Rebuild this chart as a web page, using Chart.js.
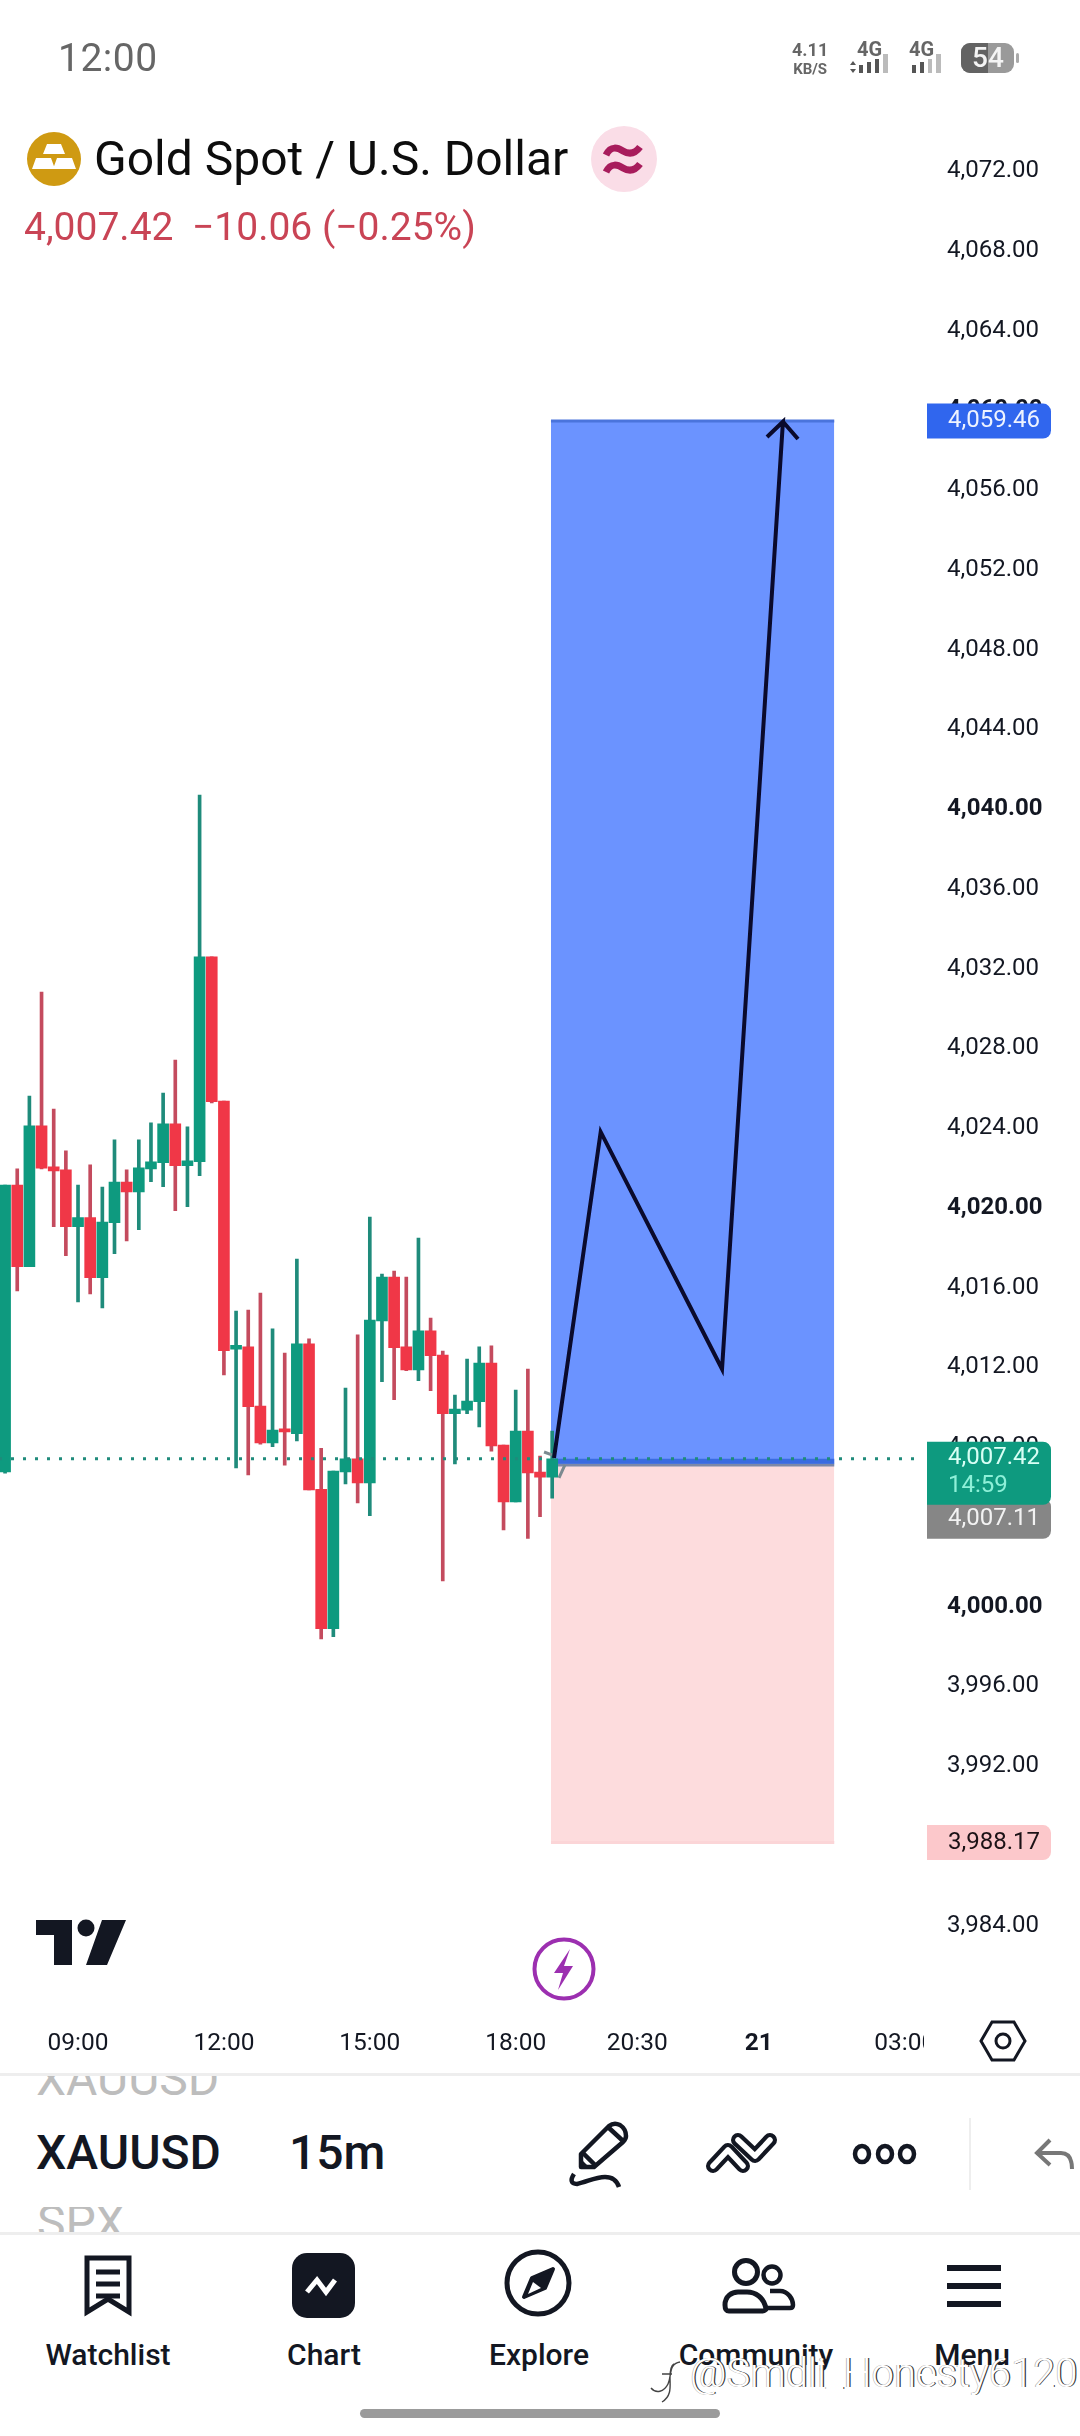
<!DOCTYPE html>
<html>
<head>
<meta charset="utf-8">
<title>XAUUSD 15m</title>
<script src="https://cdn.jsdelivr.net/npm/chart.js@4/dist/chart.umd.min.js"></script>
<style>
  html, body { margin: 0; padding: 0; background: #fff; }
  body { position: relative; width: 1080px; height: 2436px; overflow: hidden; font-family: Roboto, sans-serif; color: #131722; }
  #chart { position: absolute; left: -1px; top: 0; }
  .abs { position: absolute; white-space: nowrap; }
  .nav { position: absolute; top: 2337px; font-size: 30px; line-height: 36px; font-weight: 500; transform: translateX(-50%); white-space: nowrap; }
  svg { position: absolute; overflow: visible; }
</style>
</head>
<body>
<canvas id="chart" width="1081" height="2072"></canvas>

<!-- barra de estado -->
<div class="abs" style="left:58px;top:36px;font-size:39px;line-height:44px;color:#666;letter-spacing:.5px">12:00</div>
<div class="abs" style="left:792px;top:41px;font-size:18px;line-height:18px;font-weight:700;color:#666;text-align:center">4.11<br><span style="font-size:15px">KB/S</span></div>
<div class="abs" style="left:857px;top:39px;font-size:20px;line-height:20px;font-weight:700;color:#666">4G</div>
<div class="abs" style="left:909px;top:39px;font-size:20px;line-height:20px;font-weight:700;color:#666">4G</div>
<svg style="left:0;top:0" width="1080" height="90">
  <g fill="#555"><rect x="859" y="65" width="4" height="8"/><rect x="867" y="62" width="4" height="11"/><rect x="875" y="59" width="4" height="14"/></g>
  <rect x="883" y="54" width="5" height="19" fill="#bbb"/>
  <path d="M850 65l3-4 3 4zM850 69l3 4 3-4z" fill="#555"/>
  <g fill="#555"><rect x="912" y="65" width="4" height="8"/><rect x="920" y="62" width="4" height="11"/></g>
  <g fill="#bbb"><rect x="928" y="59" width="4" height="14"/><rect x="936" y="54" width="5" height="19"/></g>
  <rect x="961" y="43" width="53" height="30" rx="9" fill="#9a9a9a"/>
  <path d="M970 43h18v30h-18a9 9 0 0 1-9-9v-12a9 9 0 0 1 9-9z" fill="#636363"/>
  <rect x="1016" y="53" width="3" height="10" rx="1.5" fill="#aaa"/>
</svg>
<div class="abs" style="left:972px;top:42px;font-size:28px;line-height:32px;font-weight:500;color:#f4f4f4">54</div>

<!-- cabecera -->
<svg style="left:27px;top:132px" width="54" height="54" viewBox="0 0 54 54">
  <circle cx="27" cy="27" r="27" fill="#cf9a12"/>
  <path d="M20 12h14l4 10h-22zM9 26h15l4 11h-23zM30 26h15l4 11h-23z" fill="#fff"/>
</svg>
<div class="abs" style="left:94px;top:131px;font-size:48px;line-height:56px;color:#0d0d0d">Gold Spot / U.S. Dollar</div>
<svg style="left:591px;top:126px" width="66" height="66" viewBox="0 0 66 66">
  <circle cx="33" cy="33" r="33" fill="#fadde7"/>
  <path d="M15 29c5-10 12-7 17-4s11 4 17-4M15 46c5-10 12-7 17-4s11 4 17-4" fill="none" stroke="#a81c5c" stroke-width="7"/>
</svg>
<div class="abs" style="left:24px;top:204px;font-size:39px;line-height:46px;color:#c94455">4,007.42</div>
<div class="abs" style="left:192px;top:204px;font-size:39px;line-height:46px;color:#c94455">−10.06 (−0.25%)</div>

<!-- logo y rayo -->
<svg style="left:0;top:0" width="1080" height="2075">
  <path d="M36 1920h36v45h-18v-30h-18zM102 1920h24l-19 45h-21z" fill="#131722"/>
  <circle cx="86" cy="1928" r="8.5" fill="#131722"/>
  <circle cx="564" cy="1969" r="29.5" fill="#fff" stroke="#9c2fb0" stroke-width="4"/>
  <path d="M570 1949l-16 24h9l-5 17 15-24h-9z" fill="#9c2fb0"/>
  <rect x="924" y="2020" width="60" height="46" fill="#fff"/>
  <path d="M992 2022h22l11 19-11 19h-22l-11-19z" fill="none" stroke="#131722" stroke-width="3"/>
  <circle cx="1003" cy="2041" r="7" fill="none" stroke="#131722" stroke-width="3"/>
</svg>

<!-- barra de herramientas -->
<div class="abs" style="left:0;top:2073px;width:1080px;height:3px;background:#eee"></div>
<div class="abs" style="left:0;top:2232px;width:1080px;height:3px;background:#eee"></div>
<div class="abs" style="left:36px;top:2076px;height:24px;overflow:hidden;font-size:48px;line-height:46px;color:#bdbdbd"><div style="margin-top:-20px">XAUUSD</div></div>
<div class="abs" style="left:37px;top:2207px;height:25px;overflow:hidden;font-size:48px;line-height:46px;color:#bdbdbd"><div style="margin-top:-7px">SPX</div></div>
<div class="abs" style="left:36px;top:2126px;font-size:48px;line-height:54px;font-weight:500">XAUUSD</div>
<div class="abs" style="left:289px;top:2126px;font-size:48px;line-height:54px;font-weight:500">15m</div>
<svg style="left:0;top:0" width="1080" height="2240">
  <g fill="none" stroke="#131722" stroke-width="4.5" stroke-linejoin="round" stroke-linecap="round">
    <path d="M581 2167V2154L609 2126q5-4 11-1q6 4 6 11q0 3-3 6L594 2167Z"/>
    <path d="M609 2128l13 12M583 2153l12 12"/>
    <path d="M574 2174c-4 6-3 10 3 10c10-2 18-7 28-7c8 0 12 4 14 10" stroke-linecap="butt"/>
    <ellipse cx="862" cy="2154" rx="7" ry="8"/><ellipse cx="885" cy="2154" rx="7" ry="8"/><ellipse cx="907" cy="2154" rx="7" ry="8"/>
  </g>
  <path d="M582 2160l6 6h-6z" fill="#131722"/>
  <g fill="none" stroke-linecap="round" stroke-linejoin="round">
    <path d="M713 2166l15-16 15 16M738 2140l17 16 15-16" stroke="#131722" stroke-width="14"/>
    <path d="M713 2166l15-16 15 16M738 2140l17 16 15-16" stroke="#fff" stroke-width="5.5"/>
  </g>
  <rect x="969" y="2118" width="2" height="72" fill="#eee"/>
  <path d="M1050 2140l-13 13 13 12M1037 2153h24c7 0 11 5 11 16" fill="none" stroke="#777" stroke-width="4"/>
</svg>

<!-- navegacion inferior -->
<svg style="left:0;top:0" width="1080" height="2330">
  <g fill="none" stroke="#131722" stroke-width="5" stroke-linejoin="round">
    <path d="M87 2258h42v54l-21-13-21 13z" stroke-linejoin="miter"/>
    <path d="M96 2272h24M96 2284h24M96 2296h24"/>
    <circle cx="538" cy="2283" r="31"/>
    <circle cx="746" cy="2272" r="11.5"/>
    <circle cx="772" cy="2275" r="8.5" stroke-width="4.5"/>
    <path d="M725 2305c0-9 7-13 13-13h9c8 0 17 5 19 17c0 1-2 2-4 2h-33c-3 0-4-2-4-6z"/>
    <path d="M770 2291h10c8 0 13 8 13 14c0 2-1 3-3 3h-23" stroke-width="4.5"/>
  </g>
  <rect x="292" y="2253" width="63" height="65" rx="15" fill="#131722"/>
  <path d="M307 2292l10-12 9 12 9-12" fill="none" stroke="#fff" stroke-width="5"/>
  <path d="M553 2269L532 2278L524 2297L545 2288Z" fill="#131722" stroke="#131722" stroke-width="4" stroke-linejoin="round"/>
  <path d="M528 2294L533 2282L541 2288Z" fill="#fff"/>
  <rect x="947" y="2265" width="54" height="6" fill="#131722"/>
  <rect x="947" y="2283" width="54" height="6" fill="#131722"/>
  <rect x="947" y="2301" width="54" height="6" fill="#131722"/>
</svg>
<div class="nav" style="left:108px">Watchlist</div>
<div class="nav" style="left:324px">Chart</div>
<div class="nav" style="left:539px">Explore</div>
<div class="nav" style="left:756px">Community</div>
<div class="nav" style="left:972px">Menu</div>

<!-- marca de agua -->
<svg style="left:650px;top:2360px" width="42" height="44" viewBox="0 0 42 44">
  <path d="M30 2C18 4 22 16 18 24S6 34 1 28M24 4c-4 2-4 10-4 14c0 8 2 18-8 24M12 14h10" fill="none" stroke="#fff" stroke-width="5"/>
  <path d="M30 2C18 4 22 16 18 24S6 34 1 28M24 4c-4 2-4 10-4 14c0 8 2 18-8 24M12 14h10" fill="none" stroke="#444" stroke-width="1.4"/>
</svg>
<div class="abs" style="left:690px;top:2351px;font-size:40px;line-height:46px;font-weight:300;color:#fff;text-shadow:1.2px 0 0 #333,-.6px 0 0 #aaa">@Smdli_Honesty6120</div>
<div class="abs" style="left:360px;top:2409px;width:360px;height:9px;border-radius:5px;background:#9b9b9b"></div>

<script>
// etiquetas del eje de tiempo, velas de 15 minutos
const timeLabels = [
    '07:30', '07:45', '08:00', '08:15', '08:30', '08:45', '09:00', '09:15', '09:30', '09:45',
    '10:00', '10:15', '10:30', '10:45', '11:00', '11:15', '11:30', '11:45', '12:00', '12:15',
    '12:30', '12:45', '13:00', '13:15', '13:30', '13:45', '14:00', '14:15', '14:30', '14:45',
    '15:00', '15:15', '15:30', '15:45', '16:00', '16:15', '16:30', '16:45', '17:00', '17:15',
    '17:30', '17:45', '18:00', '18:15', '18:30', '18:45', '19:00', '19:15', '19:30', '19:45',
    '20:00', '20:15', '20:30', '20:45', '21:00', '21:15', '21:30', '21:45', '22:00', '22:15',
    '22:30', '22:45', '21', '00:15', '00:30', '00:45', '01:00', '01:15', '01:30', '01:45',
    '02:00', '02:15', '02:30', '02:45', '03:00', '03:15'
];
const shownTimes = ['09:00', '12:00', '15:00', '18:00', '20:30', '21', '03:00'];

// valores
const opens = [
    4006.76, 4021.15, 4017.05, 4024.12, 4022.06, 4021.91, 4019.06, 4019.51, 4016.50, 4019.26,
    4021.30, 4020.80, 4021.96, 4022.27, 4024.22, 4022.12, 4022.32, 4032.59, 4025.36, 4012.91,
    4013.03, 4010.06, 4008.22, 4008.92, 4008.68, 4013.18, 4005.89, 3998.90, 4006.76, 4007.42,
    4006.21, 4014.33, 4016.53, 4013.03, 4011.87, 4013.83, 4012.62, 4009.68, 4009.86, 4010.28,
    4012.22, 4008.10, 4005.26, 4008.81, 4006.75, 4006.50
];
const highs = [
    4021.15, 4021.96, 4025.61, 4030.82, 4024.96, 4022.86, 4021.15, 4022.16, 4021.05, 4023.41,
    4021.91, 4023.41, 4024.27, 4025.76, 4027.42, 4024.07, 4040.71, 4032.59, 4025.36, 4014.83,
    4014.88, 4015.73, 4013.93, 4012.72, 4017.44, 4013.43, 4007.94, 4006.80, 4010.97, 4013.63,
    4019.54, 4016.68, 4016.83, 4016.53, 4018.49, 4014.48, 4012.82, 4010.61, 4012.42, 4013.03,
    4013.08, 4008.10, 4010.87, 4011.92, 4007.55, 4008.81
];
const lows = [
    4006.70, 4015.84, 4017.05, 4021.96, 4019.06, 4017.60, 4015.29, 4015.69, 4014.99, 4017.70,
    4018.34, 4018.91, 4021.32, 4021.07, 4019.86, 4020.06, 4021.62, 4025.26, 4011.63, 4006.96,
    4006.61, 4008.15, 4008.02, 4007.10, 4008.32, 4005.86, 3998.39, 3998.50, 4006.16, 4005.21,
    4004.57, 4011.28, 4010.38, 4011.84, 4011.33, 4010.83, 4001.29, 4007.16, 4009.68, 4009.02,
    4007.80, 4003.85, 4005.26, 4003.42, 4004.52, 4005.44
];
const closes = [
    4021.15, 4017.05, 4024.12, 4021.99, 4021.86, 4019.06, 4019.51, 4016.50, 4019.29, 4021.30,
    4020.80, 4022.01, 4022.31, 4024.22, 4022.12, 4022.36, 4032.59, 4025.33, 4012.84, 4013.11,
    4010.03, 4008.22, 4008.86, 4008.77, 4013.18, 4005.86, 3998.90, 4006.80, 4007.42, 4006.21,
    4014.38, 4016.53, 4012.99, 4011.87, 4013.83, 4012.59, 4009.68, 4009.91, 4010.31, 4012.22,
    4008.07, 4005.26, 4008.81, 4006.71, 4006.50, 4007.42
];

// posicion larga dibujada: inicio y fin en indice de vela
const positionSpan = [44.9, 68.2];
const targetPrice = 4059.46;
const entryPrice = 4007.11;
const entryBandPrice = 4007.30;
const stopPrice = 3988.17;
const lastPrice = 4007.42;

// trazo a mano: indice de vela y precio
const pathIndex = [45.15, 48.99, 58.97, 63.98, 62.67, 63.98, 65.22];
const pathPrice = [4007.46, 4023.81, 4011.92, 4059.43, 4058.66, 4059.43, 4058.56];

// marcas pequeñas junto a la entrada
const markIndex = [44.33, 44.98, 45.2, 45.56, 46.05];
const markPrice = [4007.76, 4007.61, null, 4006.46, 4007.11];

const GREEN = '#0e9a7f';
const RED = '#f03747';
const GREEN_WICK = '#1f8b7b';
const RED_WICK = '#c44b5e';
const isUp = (i) => closes[i] >= opens[i];

const hLine = (price, extra) => Object.assign({
    type: 'line',
    xAxisID: 'x2',
    data: [{ x: -0.5, y: price }, { x: 75.5, y: price }],
    pointRadius: 0,
    tension: 0
}, extra);

const zone = (edge, base, fillColor, border, order) => ({
    type: 'line',
    xAxisID: 'x2',
    data: positionSpan.map((x) => ({ x, y: edge })),
    pointRadius: 0,
    tension: 0,
    borderColor: border,
    borderWidth: 3,
    backgroundColor: fillColor,
    fill: { value: base },
    order
});

// etiquetas de precio sobre el eje, ancladas a la escala
const roundBox = (ctx, top, bottom, color, radii) => {
    ctx.fillStyle = color;
    ctx.beginPath();
    ctx.roundRect(927, top, 124, bottom - top, radii);
    ctx.fill();
};
const priceBadges = {
    id: 'priceBadges',
    afterDraw(chart) {
        const { ctx, scales: { y } } = chart;
        const label = (text, ty, color) => {
            ctx.fillStyle = color;
            ctx.fillText(text, 948, ty);
        };
        ctx.save();
        ctx.translate(1, 0);
        ctx.font = '24px Roboto';
        ctx.textAlign = 'left';
        ctx.textBaseline = 'middle';

        const blue = y.getPixelForValue(targetPrice);
        roundBox(ctx, blue - 17.5, blue + 17.5, '#3066ee', [0, 8, 8, 0]);
        label('4,059.46', blue, '#eef3ff');

        const pink = y.getPixelForValue(stopPrice);
        roundBox(ctx, pink - 17.5, pink + 17.5, '#fcc8cb', [0, 8, 8, 0]);
        label('3,988.17', pink, '#1c1216');

        const last = y.getPixelForValue(lastPrice);
        roundBox(ctx, last + 40, last + 80, '#868686', [0, 8, 8, 0]);
        label('4,007.11', last + 60, '#f2f2f2');
        roundBox(ctx, last - 17, last + 46, GREEN, [0, 8, 8, 0]);
        label('4,007.42', last - 1, '#d8fff5');
        label('14:59', last + 27, '#8ef0d8');
        ctx.restore();
    }
};

new Chart(document.getElementById('chart'), {
    data: {
        labels: timeLabels,
        datasets: [
            zone(targetPrice, entryPrice, '#6b93ff', '#4a74dc', 6),
            zone(stopPrice, entryPrice, '#fddcdd', '#fbd5d7', 6),
            {
                type: 'bar',
                data: highs.map((h, i) => [lows[i], h]),
                backgroundColor: opens.map((_, i) => (isUp(i) ? GREEN_WICK : RED_WICK)),
                barThickness: 3,
                grouped: false,
                order: 3
            },
            {
                type: 'bar',
                data: opens.map((o, i) => [o, closes[i]]),
                backgroundColor: opens.map((_, i) => (isUp(i) ? GREEN : RED)),
                barThickness: 11,
                grouped: false,
                order: 2
            },
            hLine(entryPrice, {
                data: positionSpan.map((x) => ({ x, y: entryPrice })),
                borderColor: '#7c88a8',
                borderWidth: 3,
                order: 5
            }),
            hLine(entryBandPrice, {
                data: positionSpan.map((x) => ({ x, y: entryBandPrice })),
                borderColor: '#3a6be0',
                borderWidth: 5,
                order: 4
            }),
            hLine(lastPrice, {
                borderColor: '#1f8b7b',
                borderWidth: 3,
                borderDash: [3, 9],
                order: 1
            }),
            {
                type: 'line',
                xAxisID: 'x2',
                data: markIndex.map((x, i) => ({ x, y: markPrice[i] })),
                borderColor: '#7b8a90',
                borderWidth: 3,
                pointRadius: 0,
                tension: 0,
                order: 1
            },
            {
                type: 'line',
                xAxisID: 'x2',
                data: pathIndex.map((x, i) => ({ x, y: pathPrice[i] })),
                borderColor: '#0a0a2c',
                borderWidth: 4,
                pointRadius: 0,
                tension: 0,
                order: 0
            }
        ]
    },
    options: {
        responsive: false,
        animation: false,
        layout: { padding: { top: 91.3, left: 0, right: 0, bottom: 0 } },
        plugins: { legend: { display: false }, tooltip: { enabled: false } },
        scales: {
            x: {
                type: 'category',
                grid: { display: false, drawTicks: false },
                border: { display: false },
                afterFit: (scale) => {
                    scale.height = 66.5;
                    scale.paddingLeft = 0;
                    scale.paddingRight = 0;
                },
                ticks: {
                    autoSkip: false,
                    maxRotation: 0,
                    padding: 24,
                    color: '#131722',
                    font: (ctx) => ({
                        family: 'Roboto',
                        size: 24.5,
                        weight: ctx.tick && ctx.tick.label === '21' ? 'bold' : 'normal'
                    }),
                    callback(value) {
                        const label = this.getLabelForValue(value);
                        return shownTimes.includes(label) ? label : '';
                    }
                }
            },
            x2: { type: 'linear', display: false, min: -0.5, max: 75.5 },
            y: {
                type: 'linear',
                position: 'right',
                min: 3980,
                max: 4076,
                grid: { display: false, drawTicks: false },
                border: { display: false },
                afterFit: (scale) => {
                    scale.width = 157;
                    scale.paddingTop = 0;
                    scale.paddingBottom = 0;
                },
                ticks: {
                    stepSize: 4,
                    padding: 24,
                    labelOffset: 0,
                    autoSkip: false,
                    color: '#131722',
                    font: (ctx) => ({
                        family: 'Roboto',
                        size: 24,
                        weight: ctx.tick && ctx.tick.value % 20 === 0 ? 'bold' : 'normal'
                    }),
                    callback: (value) => (value === 3980 || value === 4076
                        ? ''
                        : value.toLocaleString('en-US', { minimumFractionDigits: 2, maximumFractionDigits: 2 }))
                }
            }
        }
    },
    plugins: [priceBadges]
});
</script>
</body>
</html>
